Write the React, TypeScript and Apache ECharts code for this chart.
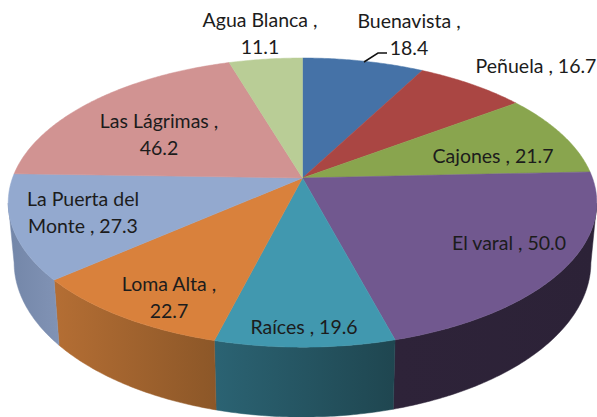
import React, { useEffect, useRef } from "react";
import * as echarts from "echarts";

const CATEGORIES = ["Buenavista", "Peñuela", "Cajones", "El varal", "Raíces", "Loma Alta", "La Puerta del Monte", "Las Lágrimas", "Agua Blanca"];
const VALUES = [18.4, 16.7, 21.7, 50.0, 19.6, 22.7, 27.3, 46.2, 11.1];
const TOP_COLORS = ["#4572A7", "#AA4643", "#89A54E", "#71588F", "#4198AF", "#D9813C", "#93A9CF", "#D19392", "#B9CD96"];
const WALL_COLORS = [["#2f4f75", "#2f4f75"], ["#77312f", "#77312f"], ["#607336", "#607336"], ["#2e2339", "#2c2237"], ["#2b6373", "#1f4650"], ["#b46e34", "#8c5728"], ["#7386a8", "#8193b5"], ["#926766", "#926766"], ["#818f69", "#818f69"]];
const WRAP_AT = [12, 0, 0, 0, 0, 11, 13, 14, 13];
const LABEL_XY = [[409, 34], [536, 65], [493, 155], [509, 242], [304, 326], [169, 297], [83, 212], [159, 134], [260, 33]];

const CX = 302.5, CY = 178, RX = 290, RY = 140.4, K = 0.17, DEPTH = 58, SHRINK = 0.98;
const TOTAL = VALUES.reduce((a, b) => a + b, 0);
const START = VALUES.map((_, i) => VALUES.slice(0, i).reduce((a, b) => a + b, 0));

function topPoint(t: number) {
  const u = Math.sin(t), v = -Math.cos(t), s = 1 / (1 - K * v);
  return [CX + RX * u * s, CY + RY * v * s, s];
}
function bottomPoint(t: number) {
  const [x, y, s] = topPoint(t);
  return [CX + (x - CX) * SHRINK, y + DEPTH * s];
}
function range(a: number, b: number) {
  const out: number[] = [];
  const n = Math.max(2, Math.ceil((b - a) / 0.01));
  for (let i = 0; i <= n; i++) out.push(a + ((b - a) * i) / n);
  return out;
}
function angles(i: number) {
  return [(START[i] / TOTAL) * 2 * Math.PI, ((START[i] + VALUES[i]) / TOTAL) * 2 * Math.PI];
}
const WALL_A = (100 / 180) * Math.PI, WALL_B = (260 / 180) * Math.PI;

function renderWall(params: any) {
  const i = params.dataIndex;
  const [a0, a1] = angles(i);
  const a = Math.max(a0, WALL_A), b = Math.min(a1, WALL_B);
  if (b <= a) return { type: "group", children: [] };
  const ts = range(a, b);
  const pts = [...ts.map((t) => topPoint(t).slice(0, 2)), ...ts.slice().reverse().map(bottomPoint)];
  const xs = pts.map((p) => p[0]);
  const fill = new echarts.graphic.LinearGradient(Math.min(...xs), 0, Math.max(...xs), 0, [
    { offset: 0, color: WALL_COLORS[i][0] },
    { offset: 1, color: WALL_COLORS[i][1] },
  ], true);
  return { type: "polygon", shape: { points: pts }, style: { fill, stroke: fill, lineWidth: 0.5 } };
}

function renderTop(params: any) {
  const i = params.dataIndex;
  const [a0, a1] = angles(i);
  const pts = [[CX, CY], ...range(a0, a1).map((t) => topPoint(t).slice(0, 2))];
  return { type: "polygon", shape: { points: pts }, style: { fill: TOP_COLORS[i], stroke: TOP_COLORS[i], lineWidth: 0.5 } };
}

function labelText(i: number) {
  const s = `${CATEGORIES[i]} , ${VALUES[i].toFixed(1)}`;
  return WRAP_AT[i] ? `${s.slice(0, WRAP_AT[i]).trimEnd()}\n${s.slice(WRAP_AT[i]).trimStart()}` : s;
}

function renderLabel(params: any) {
  const i = params.dataIndex;
  const children: any[] = [{
    type: "text",
    x: LABEL_XY[i][0],
    y: LABEL_XY[i][1],
    style: {
      text: labelText(i),
      fontFamily: "Lato",
      fontSize: 19.5,
      lineHeight: 27,
      fill: "#1c1c1c",
      align: "center",
      verticalAlign: "middle",
    },
  }];
  if (i === 0) {
    children.push({
      type: "polyline",
      shape: { points: [[364, 62], [378, 53], [387, 53]] },
      style: { fill: "none", stroke: "#111", lineWidth: 1.5 },
    });
  }
  return { type: "group", children };
}

export default function App() {
  const ref = useRef<HTMLDivElement>(null);
  useEffect(() => {
    const chart = echarts.init(ref.current!, undefined, { renderer: "svg" });
    const data = VALUES.map((v, i) => ({ name: CATEGORIES[i], value: [i, v] }));
    chart.setOption({
      animation: false,
      backgroundColor: "#ffffff",
      series: [
        { type: "custom", coordinateSystem: "none", data, renderItem: renderWall, z: 1, silent: true },
        { type: "custom", coordinateSystem: "none", data, renderItem: renderTop, z: 2, silent: true },
        { type: "custom", coordinateSystem: "none", data, renderItem: renderLabel, z: 3, silent: true },
      ],
    });
    return () => chart.dispose();
  }, []);
  return <div ref={ref} style={{ position: "fixed", left: 0, top: 0, width: 597, height: 417 }} />;
}
